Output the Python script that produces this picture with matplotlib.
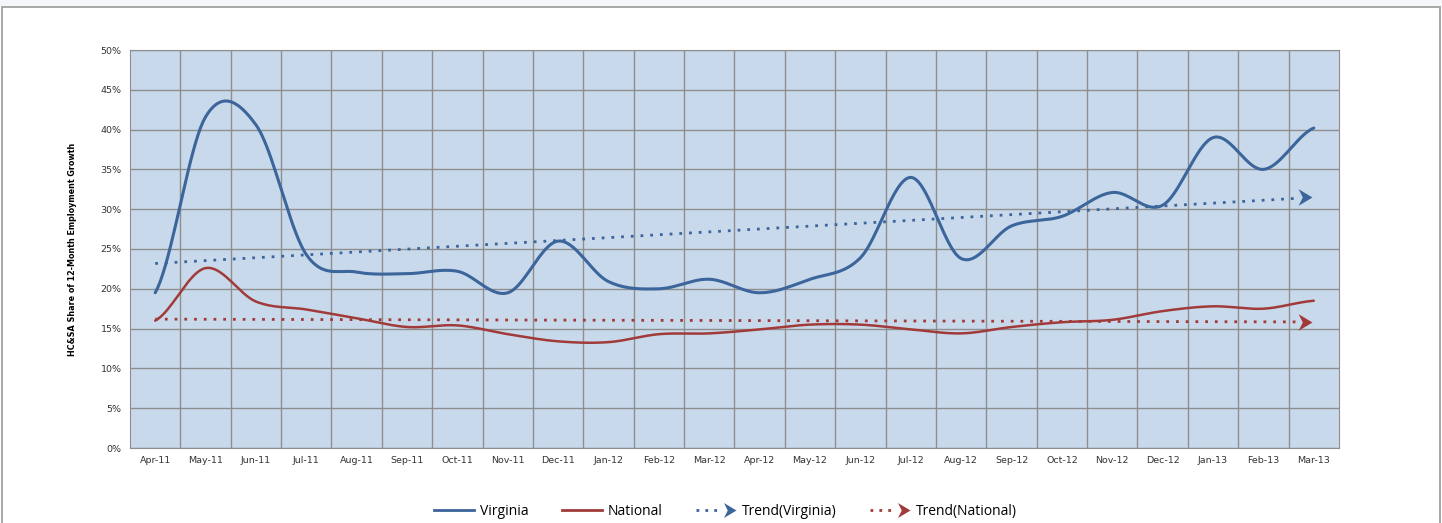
import numpy as np
import matplotlib
matplotlib.use('Agg')
import matplotlib.pyplot as plt
from matplotlib.lines import Line2D
from matplotlib.patches import Rectangle
from matplotlib.path import Path
from matplotlib.legend_handler import HandlerBase

months = ['Apr-11', 'May-11', 'Jun-11', 'Jul-11', 'Aug-11', 'Sep-11', 'Oct-11', 'Nov-11',
          'Dec-11', 'Jan-12', 'Feb-12', 'Mar-12', 'Apr-12', 'May-12', 'Jun-12', 'Jul-12',
          'Aug-12', 'Sep-12', 'Oct-12', 'Nov-12', 'Dec-12', 'Jan-13', 'Feb-13', 'Mar-13']
virginia = [19.5, 41.6, 40.6, 24.3, 22.1, 21.9, 22.2, 19.5, 26.0, 20.9, 20.0, 21.2,
            19.5, 21.2, 23.9, 34.0, 23.8, 27.9, 29.1, 32.1, 30.5, 39.0, 35.0, 40.2]
national = [16.0, 22.6, 18.4, 17.4, 16.3, 15.2, 15.4, 14.3, 13.4, 13.3, 14.3, 14.4,
            14.9, 15.5, 15.5, 14.9, 14.4, 15.2, 15.8, 16.1, 17.2, 17.8, 17.5, 18.5]

blue = '#3B659B'
red = '#A03B39'

# stealth arrow head used at the end of the trend lines
arrow = Path([(0, 0), (-1, 0.6), (-0.7, 0), (-1, -0.6), (0, 0)],
             [Path.MOVETO, Path.LINETO, Path.LINETO, Path.LINETO, Path.CLOSEPOLY])


def smooth(y, n=20):
    # catmull-rom style curve through the points, like excel's smoothed line
    y = np.asarray(y, float)
    x = np.arange(len(y), dtype=float)
    p = np.concatenate([[y[0]], y, [y[-1]]])
    xs, ys = [], []
    for i in range(len(y) - 1):
        p0, p1, p2, p3 = p[i], p[i + 1], p[i + 2], p[i + 3]
        t = np.linspace(0, 1, n, endpoint=False)
        c1 = p1 + (p2 - p0) / 6
        c2 = p2 - (p3 - p1) / 6
        yy = (1 - t) ** 3 * p1 + 3 * (1 - t) ** 2 * t * c1 + 3 * (1 - t) * t ** 2 * c2 + t ** 3 * p2
        xs.append(x[i] + t)
        ys.append(yy)
    xs.append([x[-1]])
    ys.append([y[-1]])
    return np.concatenate(xs), np.concatenate(ys)


class TrendHandler(HandlerBase):
    def create_artists(self, legend, orig, xd, yd, width, height, fontsize, trans):
        c = orig.get_color()
        y = height / 2 - yd
        l = Line2D([-xd, -xd + width - 10], [y, y], color=c, lw=2, ls=(0, (1, 2.2)), transform=trans)
        m = Line2D([-xd + width], [y], color=c, marker=arrow, ms=18, ls='none',
                   markeredgewidth=0, transform=trans)
        return [l, m]


fig = plt.figure(figsize=(14.42, 5.23), dpi=100)
fig.patches.append(Rectangle((0, 0.986), 1, 0.014, transform=fig.transFigure,
                             facecolor='#F4F6FA', edgecolor='none'))
fig.patches.append(Rectangle((0.0015, -0.01), 0.997, 0.997, transform=fig.transFigure,
                             facecolor='none', edgecolor='#9A9A9A', lw=1.2))

ax = fig.add_axes([130 / 1442, 75 / 523, 1209 / 1442, 398 / 523])
ax.set_facecolor('#C9D9EC')
ax.set_xlim(-0.5, len(months) - 0.5)
ax.set_ylim(0, 50)
ax.set_yticks(np.arange(0, 51, 5))
ax.set_yticklabels(['%d%%' % v for v in range(0, 51, 5)])
ax.set_xticks(np.arange(len(months)))
ax.set_xticklabels(months)
ax.set_xticks(np.arange(len(months) - 1) + 0.5, minor=True)
ax.grid(True, axis='y', color='#8E8E8E', lw=1)
ax.grid(True, axis='x', which='minor', color='#8E8E8E', lw=1)
ax.set_axisbelow(True)
ax.tick_params(axis='both', which='both', length=0, labelsize=6.8, colors='#333333', pad=6)
for s in ax.spines.values():
    s.set_color('#8E8E8E')
ax.set_ylabel('HC&SA Share of 12-Month Employment Growth', fontsize=5.8, fontweight='bold',
              family='DejaVu Sans', labelpad=17)

xv, yv = smooth(virginia)
xn, yn = smooth(national)
ax.plot(xv, yv, color=blue, lw=2.2, solid_capstyle='round')
ax.plot(xn, yn, color=red, lw=1.8, solid_capstyle='round')

x = np.arange(len(months))
for data, c in [(virginia, blue), (national, red)]:
    k, b = np.polyfit(x, data, 1)
    xe = x[-1] - 0.04
    ax.plot([0, xe - 0.3], [b, k * (xe - 0.3) + b], color=c, lw=2, ls=(0, (1, 2.5)))
    ax.plot([xe], [k * xe + b], color=c, marker=arrow, ms=20, markeredgewidth=0, ls='none')

handles = [Line2D([], [], color=blue, lw=2),
           Line2D([], [], color=red, lw=2),
           Line2D([], [], color=blue),
           Line2D([], [], color=red)]
trend_map = {handles[2]: TrendHandler(), handles[3]: TrendHandler()}
fig.legend(handles, ['Virginia', 'National', 'Trend(Virginia)', 'Trend(National)'],
           loc='center', bbox_to_anchor=(0.503, 0.022), ncol=4, frameon=False,
           prop={'family': ['Open Sans', 'DejaVu Sans'], 'size': 10},
           handlelength=2.9, columnspacing=2.4, handletextpad=0.4, handler_map=trend_map)

fig.savefig('out.png', dpi=100)
